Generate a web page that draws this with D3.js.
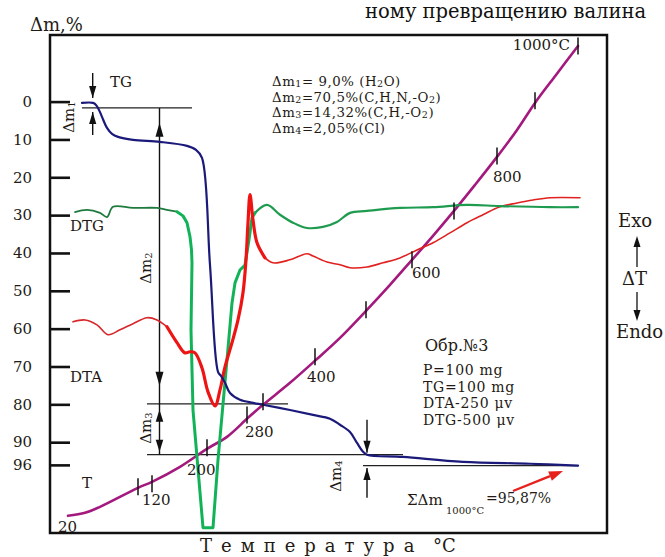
<!DOCTYPE html>
<html><head><meta charset="utf-8">
<script src="https://cdn.jsdelivr.net/npm/d3@7"></script>
<style>
html,body{margin:0;padding:0;background:#fff;overflow:hidden;}
svg{display:block;}
</style></head><body>
<svg id="c" width="665" height="557"></svg>
<script>
// ---------- data (x = heating time units, y = Δm % units) ----------
const yTicks = [0,10,20,30,40,50,60,70,80,90,96];

const tgCurve = [[6.4,0.34],[8.6,0.34],[9.2,0.87],[9.8,2.19],[10.4,4.04],[11.4,6.95],[12.4,8.53],[13.6,9.33],
  [16.6,10.12],[22.0,10.65],[27.4,11.7],[29.2,12.76],[30.4,14.87],[32.0,43.2],[33.6,71.4],[34.2,72.5],[35.0,74.3],[36.0,77.0],
  [38.0,78.8],[40.6,79.6],[42.6,80.1],[48.0,81.5],[52.6,82.8],[56.0,83.8],[58.0,85.4],[60.0,87.3],[61.4,90.2],
  [62.6,92.5],[63.4,93.3],[70.6,93.9],[82.6,95.2],[96.0,95.7],[105.6,96.2]];

const dtgStart = [[5.0,29.2],[7.4,28.6],[10.0,29.4],[11.4,30.5],[12.6,27.8],[16.6,28.1],[21.4,28.1],[23.4,28.6],[25.4,29.1]];
const dtgPeak = [[25.4,29.1],[26.6,30.2],[27.4,32.0],[28.0,35.7],[28.3,39.2],[28.4,42.6],[28.2,60.3],[28.6,81.5],
  [30.6,112.6],[32.6,112.6],[33.6,94.7],[35.4,68.2],[36.4,53.2],[37.0,47.9],[38.0,44.5],[39.0,43.2],[39.8,36.5],
  [40.4,30.7],[41.0,29.4]];
const dtgEnd = [[41.0,29.4],[43.4,27.3],[46.0,29.9],[48.6,32.0],[51.4,33.4],[54.6,33.1],[57.4,31.8],[60.0,29.4],
  [63.4,28.9],[70.0,28.1],[76.6,27.9],[83.4,27.3],[90.0,27.6],[100.0,27.9],[105.6,27.9]];

const dtaStart = [[4.6,58.2],[7.0,57.7],[9.4,59.0],[11.6,61.6],[14.0,60.3],[16.6,58.7],[19.4,57.1],[21.4,57.7],[23.4,59.5]];
const dtaPeak = [[23.4,59.5],[25.4,63.7],[27.0,66.4],[28.0,66.1],[29.0,66.4],[30.4,70.4],[31.6,76.7],[33.0,80.4],
  [34.0,76.2],[35.0,70.1],[36.4,63.7],[37.6,57.7],[38.6,50.5],[39.2,41.8],[39.6,32.0],[40.0,24.6],[40.6,31.3],
  [41.4,37.3],[43.0,41.3]];
const dtaEnd = [[43.0,41.3],[44.6,42.6],[48.0,41.8],[51.4,40.2],[52.6,40.8],[55.4,42.4],[58.0,43.1],[60.0,43.9],
  [63.4,43.7],[66.6,42.6],[70.0,41.3],[73.4,39.2],[76.6,37.3],[80.0,34.7],[83.4,32.0],[86.6,29.9],[90.0,27.8],
  [93.4,26.8],[96.6,26.0],[100.0,25.4],[106.0,25.4]];

const tCurve = [[3.6,109.46],[7.0,108.67],[10.0,107.08],[17.6,102.06],[20.4,100.48],[26.0,96.51],[31.4,91.76],
  [35.4,88.59],[39.6,83.57],[42.6,80.13],[48.0,74.32],[53.2,68.24],[58.0,62.43],[63.2,55.3],[68.0,48.43],
  [72.4,41.82],[76.6,35.48],[80.8,28.88],[85.0,22.01],[89.4,14.61],[93.4,7.48],[97.0,0.34],[101.2,-7.05],[105.6,-14.71]];
const tTicks = [[17.6,101.8],[20.4,101.0],[31.4,91.5],[39.4,82.8],[42.6,79.3],[53.0,67.4],[63.2,55.0],
  [72.4,41.8],[80.8,28.9],[89.4,14.4],[97.0,-0.2],[105.6,-14.7]];
const tTickLabels = ["", "120", "200", "280", "", "400", "", "600", "", "800", "", "1000°C"];

const legendLines = [
  [["Δm",0],["1",1],["= 9,0% (H",0],["2",1],["O)",0]],
  [["Δm",0],["2",1],["=70,5%(C,H,N,-O",0],["2",1],[")",0]],
  [["Δm",0],["3",1],["=14,32%(C,H,-O",0],["2",1],[")",0]],
  [["Δm",0],["4",1],["=2,05%(Cl)",0]]
];
const sampleLines = ["P=100 mg","TG=100 mg","DTA-250 μv","DTG-500 μv"];

// ---------- scales ----------
const W = 665, H = 557;
const x = d3.scaleLinear().domain([0,111.4]).range([50,607]);
const y = d3.scaleLinear().domain([-17.6,114]).range([35,533]);
const FONT = '"DejaVu Serif","Liberation Serif",serif';
const INK = "#231a14";

const svg = d3.select("#c").attr("font-family", FONT);
svg.append("rect").attr("width",W).attr("height",H).attr("fill","#fff");

// title fragment on top
svg.append("text").attr("x",365).attr("y",17.5).attr("font-size",19.5).attr("fill","#111")
  .text("ному превращению валина");

// frame
svg.append("rect").attr("x",x(0)).attr("y",y(-17.6)).attr("width",x(111.4)-x(0)).attr("height",y(114)-y(-17.6))
  .attr("fill","none").attr("stroke","#111").attr("stroke-width",2.5);

// y axis
const ax = svg.append("g").attr("transform",`translate(${x(0)},0)`)
  .call(d3.axisLeft(y).tickValues(yTicks).tickSize(-20).tickPadding(18).tickFormat(d3.format("d")));
ax.select(".domain").remove();
ax.selectAll(".tick line").attr("stroke","#111").attr("stroke-width",2.6);
ax.selectAll(".tick text").attr("font-family",FONT).attr("font-size",15).attr("fill",INK);

svg.append("text").attr("x",30).attr("y",31).attr("font-size",18).attr("fill",INK).text("Δm,%");

// reference lines
const thin = (t0,t1,v) => svg.append("line").attr("x1",x(t0)).attr("x2",x(t1)).attr("y1",y(v)).attr("y2",y(v))
  .attr("stroke","#222").attr("stroke-width",1.2);
thin(6.4,28.4,1.66);
thin(19.4,47.6,79.9);
thin(19.4,70.6,93.3);
thin(62.6,105.6,96.2);

function vline(t,v0,v1){
  svg.append("line").attr("x1",x(t)).attr("x2",x(t)).attr("y1",y(v0)).attr("y2",y(v1))
    .attr("stroke","#111").attr("stroke-width",1.4);
}
function head(t,v,dir,len=12,hw=3.6,color="#111"){ // dir +1 points down, -1 points up
  const px=x(t), py=y(v);
  svg.append("path").attr("d",`M${px},${py}L${px-hw},${py-dir*len}L${px+hw},${py-dir*len}Z`).attr("fill",color);
}
// Δm1
vline(8.54,-7.58,-0.98); head(8.54,-0.98,1);
vline(8.54,8.8,2.72); head(8.54,2.72,-1);
// Δm2 / Δm3
vline(21.9,1.66,93.3);
head(21.9,5.6,-1,14,4); head(21.9,75.1,1,14,4);
head(21.9,81.45,-1,12,3.8); head(21.9,92.5,1,12,3.8);
// Δm4
vline(63.4,84.1,92.8); head(63.4,92.8,1);
vline(63.4,104.7,96.8); head(63.4,96.8,-1);

function rotLabel(px,py,sub){
  const t = svg.append("text").attr("transform",`translate(${px},${py}) rotate(-90)`)
    .attr("text-anchor","middle").attr("font-size",15).attr("fill",INK);
  t.append("tspan").text("Δm");
  t.append("tspan").attr("font-size",10).attr("dy",1).text(sub);
}
rotLabel(74,117,"1");
rotLabel(151,268,"2");
rotLabel(151,428,"3");
rotLabel(341,476,"4");

// curves
const smooth = d3.line().x(d=>x(d[0])).y(d=>y(d[1])).curve(d3.curveCatmullRom.alpha(0.5));
const straight = d3.line().x(d=>x(d[0])).y(d=>y(d[1]));
function curve(data,color,w,gen=smooth){
  svg.append("path").datum(data).attr("d",gen).attr("fill","none").attr("stroke",color)
    .attr("stroke-width",w).attr("stroke-linejoin","round").attr("stroke-linecap","round");
}
curve(tCurve,"#a3197d",2.6);
curve(dtaStart,"#d8262a",1.6);
curve(dtaEnd,"#e0211f",1.6);
curve(dtgStart,"#1f7a3e",1.8);
curve(dtgEnd,"#1f9b50",2.2);
curve(dtgPeak,"#12b358",3,straight);
curve(dtaPeak,"#ee1414",3.2);
curve(tgCurve,"#1b1a7a",2.2);

// temperature ticks on T curve
const tg = svg.append("g");
tg.selectAll("line").data(tTicks).join("line")
  .attr("x1",d=>x(d[0])).attr("x2",d=>x(d[0])).attr("y1",d=>y(d[1])-8.5).attr("y2",d=>y(d[1])+8.5)
  .attr("stroke","#111").attr("stroke-width",1.5);
const tLabOff = {"120":[-10,21,"start"],"200":[-20,27,"start"],"280":[-2,22,"start"],"400":[-8,25,"start"],
  "600":[0,18,"start"],"800":[-4,26,"start"],"1000°C":[-8,4,"end"]};
tg.selectAll("text").data(tTicks.map((d,i)=>[d,tTickLabels[i]]).filter(d=>d[1])).join("text")
  .attr("x",d=>x(d[0][0])+tLabOff[d[1]][0]).attr("y",d=>y(d[0][1])+tLabOff[d[1]][1])
  .attr("text-anchor",d=>tLabOff[d[1]][2]).attr("font-size",15).attr("fill",INK).text(d=>d[1]);

// curve names
const lab = (px,py,s,txt) => svg.append("text").attr("x",px).attr("y",py).attr("font-size",s).attr("fill",INK).text(txt);
lab(110,87,15,"TG");
lab(70,231,15,"DTG");
lab(70,382,15,"DTA");
lab(82,488,15,"T");
lab(58,532,15,"20");

// legend block
legendLines.forEach((parts,i)=>{
  const t = svg.append("text").attr("x",272).attr("y",86+i*15.6).attr("font-size",13.3)
    .attr("letter-spacing",0.55).attr("fill",INK);
  parts.forEach((p,j)=>{
    const s = t.append("tspan").attr("font-size",p[1]?9.5:13.3).text(p[0]);
    if(j>0) s.attr("dy", p[1]?1:(parts[j-1][1]?-1:0));
  });
});
lab(425,351,16,"Обр.№3");
sampleLines.forEach((s,i)=>lab(423,375+i*16.7,14,s).attr("letter-spacing",0.7));

// sum
lab(407,505,15,"ΣΔm");
lab(446,514,10,"1000°C");
lab(486,503,14,"=95,87%");
// red arrow
const ra = [[92.6,102.9],[102.6,97.6]];
{
  const p0=[x(ra[0][0]),y(ra[0][1])], p1=[x(ra[1][0]),y(ra[1][1])];
  const ang=Math.atan2(p1[1]-p0[1],p1[0]-p0[0]);
  const L=14, hw=5;
  const bx=p1[0]-L*Math.cos(ang), by=p1[1]-L*Math.sin(ang);
  svg.append("line").attr("x1",p0[0]).attr("y1",p0[1]).attr("x2",bx).attr("y2",by).attr("stroke","#e8201c").attr("stroke-width",2.4);
  svg.append("path").attr("d",`M${p1[0]},${p1[1]}L${bx-hw*Math.sin(ang)},${by+hw*Math.cos(ang)}L${bx+hw*Math.sin(ang)},${by-hw*Math.cos(ang)}Z`)
    .attr("fill","#e8201c");
}

// right side labels
lab(618,227,18,"Exo");
svg.append("line").attr("x1",637).attr("x2",637).attr("y1",267).attr("y2",244).attr("stroke","#111").attr("stroke-width",1.3);
svg.append("path").attr("d","M637,236L633.5,247L640.5,247Z").attr("fill","#111");
lab(622,285,18,"ΔT");
svg.append("line").attr("x1",637).attr("x2",637).attr("y1",292).attr("y2",313).attr("stroke","#111").attr("stroke-width",1.3);
svg.append("path").attr("d","M637,321L633.5,310L640.5,310Z").attr("fill","#111");
lab(616,338,18,"Endo");

// x title
{
  const t = svg.append("text").attr("x",200).attr("y",552).attr("font-size",18).attr("fill",INK);
  t.append("tspan").attr("letter-spacing",9).text("Температура");
  t.append("tspan").attr("x",433).text("°C");
}
</script>
</body></html>
